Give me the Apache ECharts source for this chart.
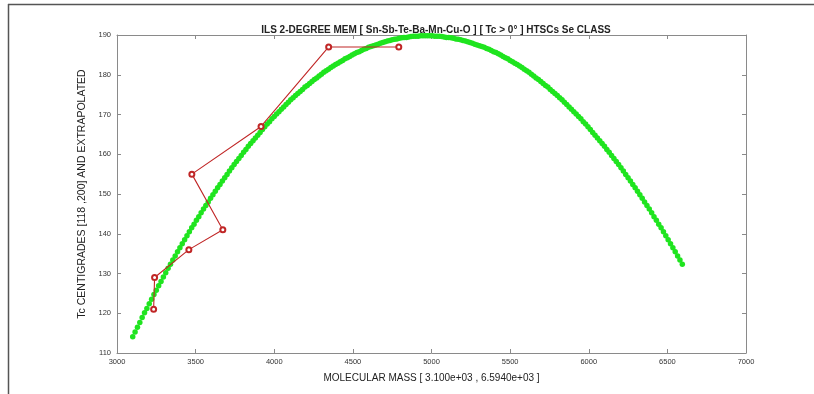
<!DOCTYPE html>
<html lang="en">
<head>
  <meta charset="UTF-8">
  <title>ILS 2-DEGREE MEM</title>
  <style>
    html, body { margin: 0; padding: 0; background: #ffffff; }
  </style>
</head>
<body>
<div id="main" style="width:814px; height:394px;"></div>

<script src="https://cdn.jsdelivr.net/npm/echarts@6.0.0/dist/echarts.min.js"></script>

<script>
  // measured points (molecular mass, Tc)
  var massPts = [3233, 3239, 3457, 3673, 3476, 3916, 4346, 4792];
  var tcPts = [121, 129, 136, 141, 155, 167, 187, 187];

  // 2-degree fitted / extrapolated curve
  var massFit = [
    3100,3115,3130,3145,3160,3175,3190,3205,3220,3235,
    3250,3265,3280,3295,3310,3325,3340,3355,3370,3385,
    3400,3415,3430,3445,3460,3475,3490,3505,3520,3535,
    3550,3565,3580,3595,3610,3625,3640,3655,3670,3685,
    3700,3715,3730,3745,3760,3775,3790,3805,3820,3835,
    3850,3865,3880,3895,3910,3925,3940,3955,3970,3985,
    4000,4015,4030,4045,4060,4075,4090,4105,4120,4135,
    4150,4165,4180,4195,4210,4225,4240,4255,4270,4285,
    4300,4315,4330,4345,4360,4375,4390,4405,4420,4435,
    4450,4465,4480,4495,4510,4525,4540,4555,4570,4585,
    4600,4615,4630,4645,4660,4675,4690,4705,4720,4735,
    4750,4765,4780,4795,4810,4825,4840,4855,4870,4885,
    4900,4915,4930,4945,4960,4975,4990,5005,5020,5035,
    5050,5065,5080,5095,5110,5125,5140,5155,5170,5185,
    5200,5215,5230,5245,5260,5275,5290,5305,5320,5335,
    5350,5365,5380,5395,5410,5425,5440,5455,5470,5485,
    5500,5515,5530,5545,5560,5575,5590,5605,5620,5635,
    5650,5665,5680,5695,5710,5725,5740,5755,5770,5785,
    5800,5815,5830,5845,5860,5875,5890,5905,5920,5935,
    5950,5965,5980,5995,6010,6025,6040,6055,6070,6085,
    6100,6115,6130,6145,6160,6175,6190,6205,6220,6235,
    6250,6265,6280,6295,6310,6325,6340,6355,6370,6385,
    6400,6415,6430,6445,6460,6475,6490,6505,6520,6535,
    6550,6565,6580,6595
  ];
  var tcFit = [
    114.1,115.3,116.5,117.7,118.9,120.1,121.2,122.4,123.5,124.7,
    125.8,126.9,128.0,129.1,130.2,131.3,132.3,133.4,134.4,135.5,
    136.5,137.5,138.5,139.5,140.5,141.5,142.4,143.4,144.3,145.3,
    146.2,147.1,148.0,148.9,149.8,150.7,151.6,152.4,153.3,154.1,
    154.9,155.8,156.6,157.4,158.2,158.9,159.7,160.5,161.2,162.0,
    162.7,163.4,164.1,164.8,165.5,166.2,166.9,167.6,168.2,168.9,
    169.5,170.1,170.7,171.3,171.9,172.5,173.1,173.7,174.2,174.8,
    175.3,175.8,176.3,176.9,177.3,177.8,178.3,178.8,179.2,179.7,
    180.1,180.6,181.0,181.4,181.8,182.2,182.6,182.9,183.3,183.6,
    184.0,184.3,184.6,185.0,185.3,185.6,185.8,186.1,186.4,186.6,
    186.9,187.1,187.3,187.5,187.7,187.9,188.1,188.3,188.5,188.6,
    188.8,188.9,189.0,189.2,189.3,189.4,189.4,189.5,189.6,189.7,
    189.7,189.7,189.8,189.8,189.8,
    189.8,189.8,189.8,189.7,189.7,189.7,189.6,189.5,189.4,189.4,
    189.3,189.2,189.0,188.9,188.8,188.6,188.5,188.3,188.1,187.9,
    187.7,187.5,187.3,187.1,186.9,186.6,186.4,186.1,185.8,185.6,
    185.3,185.0,184.6,184.3,184.0,183.6,183.3,182.9,182.6,182.2,
    181.8,181.4,181.0,180.6,180.1,179.7,179.2,178.8,178.3,177.8,
    177.3,176.9,176.3,175.8,175.3,174.8,174.2,173.7,173.1,172.5,
    171.9,171.3,170.7,170.1,169.5,168.9,168.2,167.6,166.9,166.2,
    165.5,164.8,164.1,163.4,162.7,162.0,161.2,160.5,159.7,158.9,
    158.2,157.4,156.6,155.8,154.9,154.1,153.3,152.4,151.6,150.7,
    149.8,148.9,148.0,147.1,146.2,145.3,144.3,143.4,142.4,141.5,
    140.5,139.5,138.5,137.5,136.5,135.5,134.4,133.4,132.3
  ];

  var titleText = 'ILS 2-DEGREE MEM [ Sn-Sb-Te-Ba-Mn-Cu-O ] [ Tc > 0° ] HTSCs Se CLASS';
  var xName = 'MOLECULAR MASS [ 3.100e+03 , 6.5940e+03 ]';
  var yName = 'Tc CENTIGRADES [118 ,200] AND EXTRAPOLATED';

  var fitData = massFit.map(function (m, i) { return [m, tcFit[i]]; });
  var ptData = massPts.map(function (m, i) { return [m, tcPts[i]]; });

  var font = 'Liberation Sans, Arial, Helvetica, sans-serif';
  var axisGray = '#8a8a8a';

  var myChart = echarts.init(document.getElementById('main'));

  var option = {
    animation: false,
    backgroundColor: '#ffffff',
    title: {
      text: titleText,
      left: 431,
      top: 20,
      textAlign: 'center',
      textStyle: { fontFamily: font, fontSize: 10, fontWeight: 'bold', color: '#222' }
    },
    graphic: [
      { type: 'line', shape: { x1: 8, y1: 4.5, x2: 814, y2: 4.5 }, style: { stroke: '#555', lineWidth: 1.5 } },
      { type: 'line', shape: { x1: 8.5, y1: 4, x2: 8.5, y2: 394 }, style: { stroke: '#555', lineWidth: 1.5 } }
    ],
    grid: { left: 117, right: 68, top: 35, bottom: 41 },
    xAxis: [
      {
        type: 'value', min: 3000, max: 7000, interval: 500, position: 'bottom',
        name: xName, nameLocation: 'middle', nameGap: 20,
        nameTextStyle: { fontFamily: font, fontSize: 10, color: '#222' },
        axisLine: { lineStyle: { color: axisGray, width: 1 } },
        axisTick: { inside: true, length: 4, lineStyle: { color: axisGray } },
        axisLabel: {
          fontFamily: font, fontSize: 7.5, color: '#333', margin: 5,
          formatter: function (v) { return String(v); }
        },
        splitLine: { show: false }
      },
      {
        type: 'value', min: 3000, max: 7000, interval: 500, position: 'top',
        axisLine: { lineStyle: { color: axisGray, width: 1 } },
        axisTick: { inside: true, length: 4, lineStyle: { color: axisGray } },
        axisLabel: { show: false },
        splitLine: { show: false }
      }
    ],
    yAxis: [
      {
        type: 'value', min: 110, max: 190, interval: 10, position: 'left',
        name: yName, nameLocation: 'middle', nameGap: 16, nameRotate: 90,
        nameTextStyle: { fontFamily: font, fontSize: 10.5, color: '#222' },
        axisLine: { show: true, lineStyle: { color: axisGray, width: 1 } },
        axisTick: { show: true, inside: true, length: 4, lineStyle: { color: axisGray } },
        axisLabel: { fontFamily: font, fontSize: 7.5, color: '#333', margin: 6 },
        splitLine: { show: false }
      },
      {
        type: 'value', min: 110, max: 190, interval: 10, position: 'right',
        axisLine: { show: true, lineStyle: { color: axisGray, width: 1 } },
        axisTick: { show: true, inside: true, length: 4, lineStyle: { color: axisGray } },
        axisLabel: { show: false },
        splitLine: { show: false }
      }
    ],
    series: [
      {
        name: 'fit',
        type: 'scatter',
        data: fitData,
        symbol: 'circle',
        symbolSize: 5.5,
        itemStyle: { color: '#1fe41f', opacity: 1 },
        z: 2
      },
      {
        name: 'data',
        type: 'line',
        data: ptData,
        symbol: 'emptyCircle',
        symbolSize: 5,
        showSymbol: true,
        lineStyle: { color: '#c02626', width: 1.1 },
        itemStyle: { color: '#c02626', borderWidth: 1 },
        z: 3
      }
    ]
  };

  myChart.setOption(option);
</script>
</body>
</html>
